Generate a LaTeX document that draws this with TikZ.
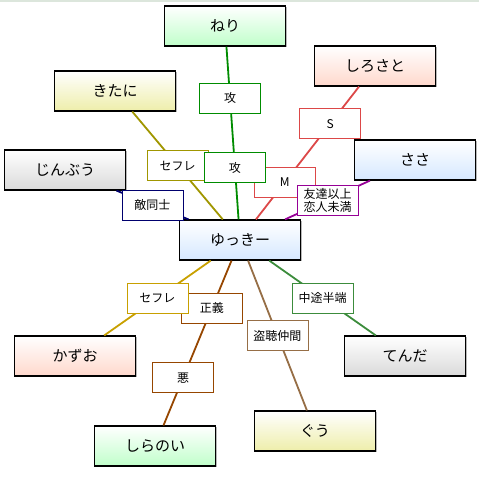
\documentclass[tikz,border=0pt]{standalone}
\usepackage{fontspec}
\setmainfont{Noto Sans CJK JP}
\usetikzlibrary{shadows}

\definecolor{fgreen}{RGB}{192,255,202}
\definecolor{fpeach}{RGB}{255,216,204}
\definecolor{fyellow}{RGB}{238,238,170}
\definecolor{fgray}{RGB}{218,218,218}
\definecolor{fblue}{RGB}{214,232,255}
\definecolor{cneri}{RGB}{0,140,0}
\definecolor{cshiro}{RGB}{220,72,72}
\definecolor{ckita}{RGB}{160,150,0}
\definecolor{cjin}{RGB}{0,0,110}
\definecolor{csasa}{RGB}{150,0,150}
\definecolor{ckazu}{RGB}{200,160,0}
\definecolor{cshira}{RGB}{150,70,0}
\definecolor{cgu}{RGB}{150,110,70}
\definecolor{cten}{RGB}{60,140,60}
\definecolor{ctop}{RGB}{220,230,220}

\begin{document}
\begin{tikzpicture}[x=1pt,y=-1pt,
  person/.style={draw=black,line width=1.2pt,minimum width=121pt,minimum height=40pt,
    top color=white,bottom color=#1,font=\fontsize{15}{15}\selectfont,
    drop shadow={shadow xshift=1pt,shadow yshift=-1pt,fill=black!35,opacity=0.8}},
  lbl/.style={draw=#1,fill=white,line width=0.8pt,minimum width=61pt,minimum height=30pt,
    inner sep=1pt,align=center,font=\fontsize{12}{13}\selectfont},
  rel/.style={draw=#1,line width=1.8pt}]
 \useasboundingbox (0,0) rectangle (479,480);
 % frame line
 \draw[ctop,line width=1.5pt] (0,0.75) -- (479,0.75);
 % persons
 \node[person=fgreen]  (neri)      at (225,26)  {ねり};
 \node[person=fpeach]  (shirosato) at (375,66)  {しろさと};
 \node[person=fyellow] (kitani)    at (115,91)  {きたに};
 \node[person=fgray]   (jinbu)     at (65,170)  {じんぶう};
 \node[person=fblue]   (sasa)      at (415,160) {ささ};
 \node[person=fblue]   (yukki)     at (240,240) {ゆっきー};
 \node[person=fpeach]  (kazuo)     at (75,356)  {かずお};
 \node[person=fgray]   (tenda)     at (405,356) {てんだ};
 \node[person=fgreen]  (shiranoi)  at (155,446) {しらのい};
 \node[person=fyellow] (gu)        at (315,431) {ぐう};
 % relations
 \draw[rel=cjin]   (jinbu) -- node[lbl=cjin,midway]{敵同士} (yukki);
 \draw[rel=ckita]  (kitani) -- node[lbl=ckita,midway]{セフレ} (yukki);
 \draw[rel=cshiro] (shirosato) -- node[lbl=cshiro,pos=0.28]{S}
                                  node[lbl=cshiro,pos=0.72]{M} (yukki);
 \draw[rel=cneri]  (neri) -- node[lbl=cneri,pos=0.3]{攻}
                             node[lbl=cneri,pos=0.7]{攻} (yukki);
 \draw[rel=csasa]  (sasa) -- node[lbl=csasa,midway]{友達以上\\恋人未満} (yukki);
 \draw[rel=cshira] (yukki) -- node[lbl=cshira,pos=0.29]{正義}
                              node[lbl=cshira,pos=0.71]{悪} (shiranoi);
 \draw[rel=ckazu]  (yukki) -- node[lbl=ckazu,midway]{セフレ} (kazuo);
 \draw[rel=cgu]    (yukki) -- node[lbl=cgu,midway]{盗聴仲間} (gu);
 \draw[rel=cten]   (yukki) -- node[lbl=cten,midway]{中途半端} (tenda);
\end{tikzpicture}
\end{document}
